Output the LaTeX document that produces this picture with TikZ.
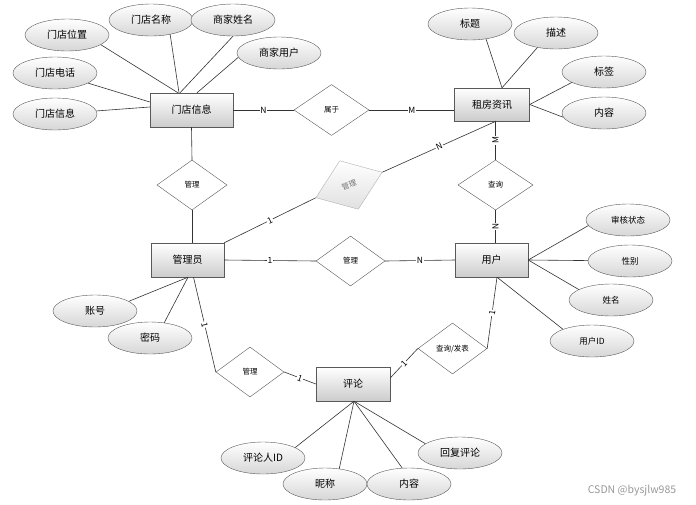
\documentclass[tikz,border=0pt]{standalone}
\usepackage{fontspec}
\setmainfont{Noto Sans CJK SC}
\usetikzlibrary{shapes.geometric,calc}
\begin{document}
\begin{tikzpicture}[x=1pt,y=-1pt,
  ent/.style={rectangle, draw=black!65, top color=white, bottom color=black!20, inner sep=0pt, font=\fontsize{10}{12}\selectfont},
  attr/.style={ellipse, draw=black!65, top color=white, bottom color=black!16, minimum width=84pt, minimum height=32pt, inner sep=0pt, font=\fontsize{10}{12}\selectfont},
  sattr/.style={attr, font=\fontsize{8.5}{10}\selectfont},
  rel/.style={diamond, draw=black!65, fill=white, inner sep=0pt, font=\fontsize{7.5}{9}\selectfont},
  lbl/.style={fill=white, inner sep=0.8pt, font=\fontsize{8.5}{9}\selectfont},
  conn/.style={draw=black!80, line width=0.6pt}]
\useasboundingbox (0,0) rectangle (696,504);
\fill[white] (0,0) rectangle (696,504);

% entities
\node[ent, minimum width=83pt, minimum height=34pt] (mdxx) at (191.5,110) {门店信息};
\node[ent, minimum width=75pt, minimum height=33pt] (zfzx) at (492,104.5) {租房资讯};
\node[ent, minimum width=73pt, minimum height=34pt] (gly) at (187.5,260) {管理员};
\node[ent, minimum width=73pt, minimum height=34pt] (yh) at (491.5,260) {用户};
\node[ent, minimum width=74pt, minimum height=34pt] (pl) at (353,384) {评论};

% relationships
\node[rel, minimum width=75pt, minimum height=51pt] (sy) at (331.5,110) {属于};
\node[rel, minimum width=70pt, minimum height=50pt] (gla) at (192,185) {管理};
\node[rel, draw=black!30, top color=white, bottom color=black!12, text=black!55, minimum width=71pt, minimum height=52pt, rotate=21] (glb) at (349,185) {管理};
\node[rel, minimum width=75pt, minimum height=50pt] (cx) at (495.5,185) {查询};
\node[rel, minimum width=69pt, minimum height=50pt] (glc) at (350.5,261) {管理};
\node[rel, minimum width=68pt, minimum height=50pt] (gld) at (250,372) {管理};
\node[rel, minimum width=69pt, minimum height=51pt] (cxfb) at (452.5,348.5) {查询/发表};

% attributes
\node[attr] (a1) at (67,35) {门店位置};
\node[attr] (a2) at (151,20) {门店名称};
\node[attr] (a3) at (233,20) {商家姓名};
\node[attr] (a4) at (279,53) {商家用户};
\node[attr] (a5) at (55,73) {门店电话};
\node[attr] (a6) at (55,114) {门店信息};
\node[attr] (b1) at (470,24) {标题};
\node[attr] (b2) at (556,33) {描述};
\node[attr] (b3) at (604,72) {标签};
\node[attr] (b4) at (604,113) {内容};
\node[sattr] (c1) at (628,220) {审核状态};
\node[sattr] (c2) at (630,261) {性别};
\node[sattr] (c3) at (611,300) {姓名};
\node[sattr] (c4) at (592,341) {用户ID};
\node[attr] (d1) at (95,311) {账号};
\node[attr] (d2) at (150,338) {密码};
\node[attr] (e1) at (263,458) {评论人ID};
\node[attr] (e2) at (325,484) {昵称};
\node[attr] (e3) at (409,484) {内容};
\node[attr] (e4) at (460,453) {回复评论};

% attribute lines
\draw[conn] (a1.-16) -- ([xshift=-13.5pt]mdxx.north);
\draw[conn] (a2.-37) -- ([xshift=-12.5pt]mdxx.north);
\draw[conn] (a3.south) -- ([xshift=-11.5pt]mdxx.north);
\draw[conn] (a4.186) -- ([xshift=5.5pt]mdxx.north);
\draw[conn] (a5) -- ([yshift=8pt]mdxx.west);
\draw[conn] (a6) -- ([yshift=3pt]mdxx.west);
\draw[conn] (b1.-43) -- ([xshift=10pt]zfzx.north);
\draw[conn] (b2.218) -- ([xshift=10pt]zfzx.north);
\draw[conn] (b3.198) -- (zfzx.east);
\draw[conn] (b4.186) -- (zfzx.east);
\draw[conn] (c1.188) -- (yh.east);
\draw[conn] (c2) -- (yh.east);
\draw[conn] (c3.162) -- (yh.east);
\draw[conn] (c4.158) -- ([xshift=5.5pt]yh.south);
\draw[conn] (d1.16) -- ([xshift=0.5pt]gly.south);
\draw[conn] (d2.47) -- ([xshift=0.5pt]gly.south);
\draw[conn] (e1.18) -- ([xshift=1pt]pl.south);
\draw[conn] (e2.47) -- ([xshift=1pt]pl.south);
\draw[conn] (e3.113) -- ([xshift=1pt]pl.south);
\draw[conn] (e4.165) -- ([xshift=1pt]pl.south);

% relationship lines
\draw[conn] (mdxx.east) -- node[lbl]{N} (sy.west);
\draw[conn] (sy.east) -- node[lbl]{M} (sy.east -| zfzx.west);
\draw[conn] (mdxx.south) -- (gla.north);
\draw[conn] (gla.south) -- (gla.south |- gly.north);
\draw[conn] (gly.north east) -- node[lbl,sloped]{1} (glb.west);
\draw[conn] (glb.east) -- node[lbl,sloped]{N} ([xshift=4pt]zfzx.south);
\draw[conn] (cx.north) -- node[lbl,sloped]{M} (cx.north |- zfzx.south);
\draw[conn] (cx.south) -- node[lbl,sloped]{N} (cx.south |- yh.north);
\draw[conn] (gly.east) -- node[lbl]{1} (glc.west);
\draw[conn] (glc.east) -- node[lbl]{N} (yh.west);
\draw[conn] ([xshift=5.5pt]yh.south) -- node[lbl,sloped]{1} (cxfb.east);
\draw[conn] (cxfb.west) -- node[lbl,sloped]{1} ([yshift=6pt]pl.east);
\draw[conn] (gld.east) -- node[lbl,sloped]{1} (pl.west);
\draw[conn] ([xshift=6pt]gly.south) -- node[lbl,sloped]{1} (gld.west);

\node[font=\fontsize{10.5}{11}\selectfont, text=black!40] (wm) at (632,491) {CSDN @bysjlw985};
\end{tikzpicture}
\end{document}
